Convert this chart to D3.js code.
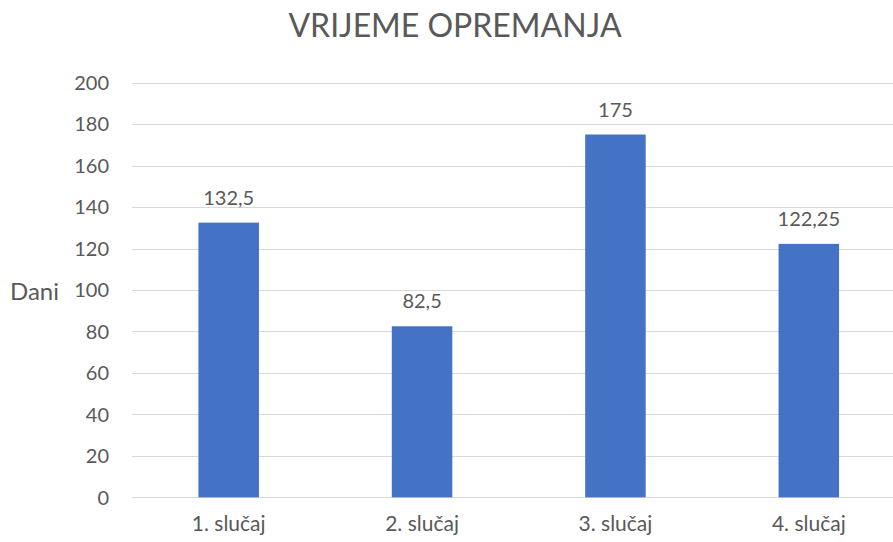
<!DOCTYPE html>
<html>
<head>
<meta charset="utf-8">
<script src="https://cdn.jsdelivr.net/npm/d3@7"></script>
<style>
  body { margin: 0; background: #fff; }
  text { font-family: Lato, "Open Sans", sans-serif; fill: #595959; }
</style>
</head>
<body>
<svg id="chart" width="893" height="542"></svg>
<script>
const categories = ['1. slučaj', '2. slučaj', '3. slučaj', '4. slučaj'];
const values = [132.5, 82.5, 175, 122.25];
const labels = ['132,5', '82,5', '175', '122,25'];
const yTicks = [0, 20, 40, 60, 80, 100, 120, 140, 160, 180, 200];

const svg = d3.select('#chart');

// plot area runs past the right edge (chart was cropped)
const plotLeft = 132, plotRight = 905.5, plotTop = 82.7, plotBottom = 497.3;

const yScale = d3.scaleLinear()
    .domain([0, 200])
    .range([plotBottom, plotTop]);

const xScale = d3.scaleBand()
    .domain(categories)
    .range([plotLeft, plotRight])
    .paddingInner(0.687)
    .paddingOuter(0.3435);

// gridlines
svg.append('g')
    .selectAll('line')
    .data(yTicks)
    .enter()
    .append('line')
    .attr('x1', plotLeft)
    .attr('x2', 893)
    .attr('y1', d => Math.round(yScale(d)) + 0.5)
    .attr('y2', d => Math.round(yScale(d)) + 0.5)
    .attr('stroke', '#d9d9d9')
    .attr('stroke-width', 1);

// y tick labels
svg.append('g')
    .selectAll('text')
    .data(yTicks)
    .enter()
    .append('text')
    .attr('x', 109)
    .attr('y', d => yScale(d))
    .attr('dy', '0.36em')
    .attr('text-anchor', 'end')
    .style('font-size', '20px')
    .text(d => d);

// bars
svg.append('g')
    .selectAll('rect')
    .data(values)
    .enter()
    .append('rect')
    .attr('x', (d, i) => xScale(categories[i]))
    .attr('y', d => yScale(d))
    .attr('width', xScale.bandwidth())
    .attr('height', d => yScale(0) - yScale(d))
    .attr('fill', '#4472c4');

// value labels
svg.append('g')
    .selectAll('text')
    .data(values)
    .enter()
    .append('text')
    .attr('x', (d, i) => xScale(categories[i]) + xScale.bandwidth() / 2)
    .attr('y', d => yScale(d) - 18)
    .attr('text-anchor', 'middle')
    .style('font-size', '20px')
    .text((d, i) => labels[i]);

// category labels
svg.append('g')
    .selectAll('text')
    .data(categories)
    .enter()
    .append('text')
    .attr('x', d => xScale(d) + xScale.bandwidth() / 2)
    .attr('y', 531)
    .attr('text-anchor', 'middle')
    .style('font-size', '21px')
    .text(d => d);

// axis title
svg.append('text')
    .attr('x', 10)
    .attr('y', 300)
    .style('font-size', '24px')
    .text('Dani');

// chart title
svg.append('text')
    .attr('x', 455)
    .attr('y', 37)
    .attr('text-anchor', 'middle')
    .style('font-size', '32px')
    .text('VRIJEME OPREMANJA');
</script>
</body>
</html>
